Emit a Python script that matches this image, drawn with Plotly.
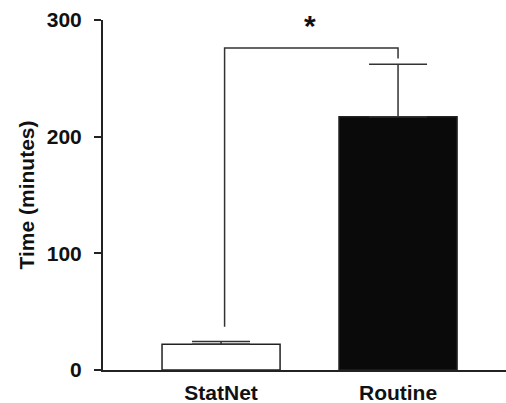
import plotly.graph_objects as go

categories = ["StatNet", "Routine"]
means = [22, 217]
errors_up = [2.5, 45]
bar_fills = ["#ffffff", "#0a0a0a"]

# significance bracket (in data units)
bracket_x = [0.02, 0.02, 1.0, 1.0]
bracket_y = [37, 276, 276, 267]
star_label = "*"
star_x = 0.5
star_y = 295

y_ticks = [0, 100, 200, 300]

font_family = "Liberation Sans, Arial, sans-serif"

fig = go.Figure()
fig.add_trace(go.Bar(
    x=[0, 1],
    y=means,
    width=0.667,
    marker=dict(color=bar_fills, line=dict(color="#222222", width=1.5)),
    error_y=dict(type="data", symmetric=False, array=errors_up,
                 arrayminus=[0, 0], color="#333333", thickness=1.5, width=29),
    showlegend=False,
    hoverinfo="skip",
))
fig.add_trace(go.Scatter(
    x=bracket_x, y=bracket_y, mode="lines",
    line=dict(color="#333333", width=1.5),
    showlegend=False, hoverinfo="skip",
))
fig.add_annotation(x=star_x, y=star_y, text=f"<b>{star_label}</b>", showarrow=False,
                   font=dict(size=30, color="#111111", family=font_family),
                   xanchor="center", yanchor="middle")

fig.update_layout(
    width=506, height=403,
    margin=dict(l=103, r=0, t=20, b=33),
    paper_bgcolor="white", plot_bgcolor="white",
    font=dict(family=font_family, size=21, color="#111111"),
)
fig.update_xaxes(
    range=[-0.667, 1.61], automargin=False,
    tickmode="array", tickvals=[0, 1], ticktext=[f"<b>{c}</b>" for c in categories],
    showline=True, linecolor="#222222", linewidth=2,
    ticks="", showgrid=False, zeroline=False, ticklabelstandoff=3,
    tickfont=dict(size=21, family=font_family, color="#111111"),
)
fig.update_yaxes(
    range=[0, 300], automargin=False,
    tickmode="array", tickvals=y_ticks, ticktext=[f"<b>{v}</b>" for v in y_ticks],
    showline=True, linecolor="#222222", linewidth=2,
    ticks="outside", ticklen=7, tickwidth=1.5, tickcolor="#222222",
    showgrid=False, zeroline=False, ticklabelstandoff=8,
    title=dict(text="<b>Time (minutes)</b>", font=dict(size=21, family=font_family), standoff=6),
    tickfont=dict(size=21, family=font_family, color="#111111"),
)

fig.write_html("out.html", config={"displayModeBar": False},
               post_script="document.body.style.margin='0px';")
